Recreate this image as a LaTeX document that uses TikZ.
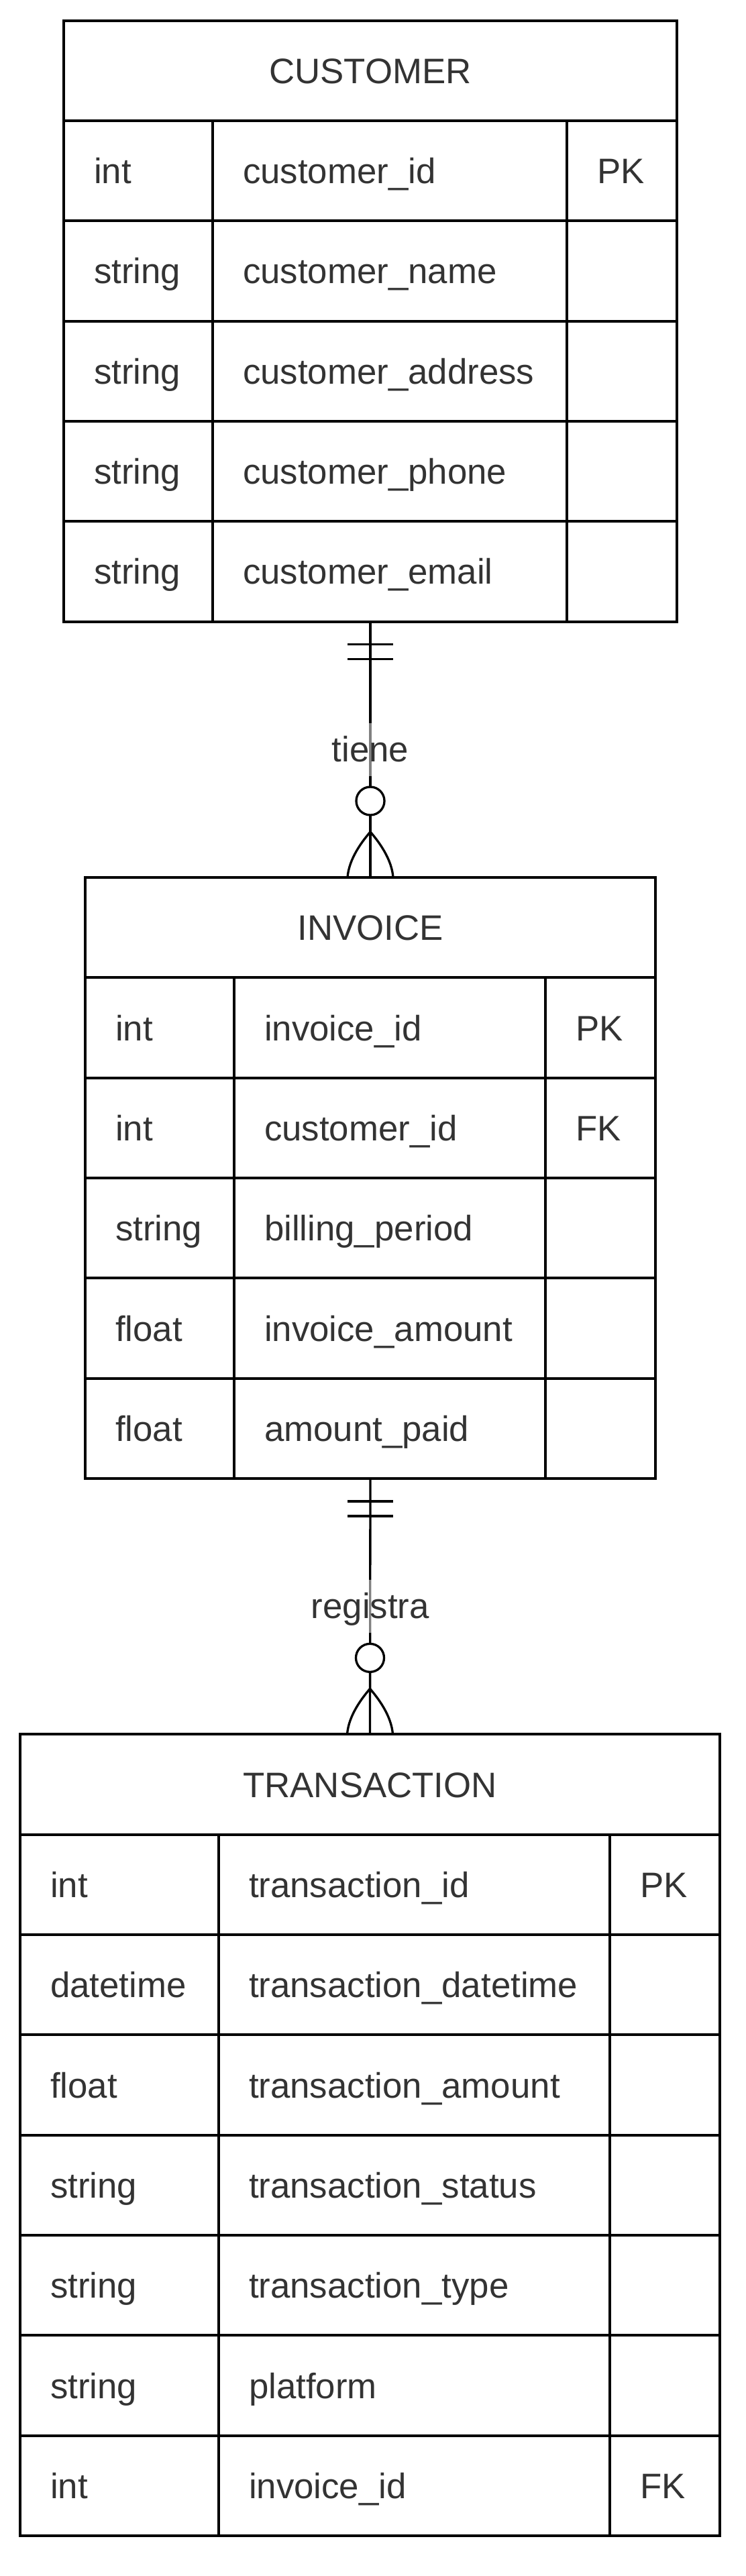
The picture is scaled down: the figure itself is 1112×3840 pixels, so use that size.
\documentclass[tikz,border=0pt]{standalone}
\usepackage{fontspec}
\setmainfont{Liberation Sans}
\usepackage{tikz}
\usetikzlibrary{calc}
\definecolor{ertext}{HTML}{333333}
\tikzset{cell/.style={draw=black, line width=1pt, shape=rectangle, anchor=north west, outer sep=0pt, inner xsep=11.25pt, inner ysep=0pt, minimum height=37.33pt, align=left, text width=#1, text height=9.5pt, text depth=0pt}}
\tikzset{head/.style={draw=black, line width=1pt, shape=rectangle, anchor=north west, outer sep=0pt, inner sep=0pt, minimum height=37.33pt, minimum width=#1, text height=9.5pt, text depth=0pt}}
\tikzset{relation/.style={draw=black, line width=0.83pt}}
\tikzset{rellabel/.style={fill=white, fill opacity=0.5, text opacity=1, inner xsep=2pt, inner ysep=2.5pt, text height=11.9pt, text depth=2.9pt}}

\begin{document}
\begin{tikzpicture}[x=0.25pt, y=-0.25pt]
	% Default action for each node
	\tikzstyle{every node}=[font=\fontsize{13.2}{16}\selectfont, text=ertext];
	\useasboundingbox (0,0) rectangle (1112,3840);

	% CUSTOMER
	\node[head=228.5pt] (customer) at (95,30.67) {CUSTOMER};
	\node[cell=33pt] (cus r1c1) at (95,180) {int};				\node[cell=109.5pt] (cus r1c2) at (317,180) {customer\_id};			\node[cell=18.5pt] (cus r1c3) at (845,180) {PK};
	\node[cell=33pt] (cus r2c1) at (95,329.33) {string};		\node[cell=109.5pt] (cus r2c2) at (317,329.33) {customer\_name};		\node[cell=18.5pt] (cus r2c3) at (845,329.33) {};
	\node[cell=33pt] (cus r3c1) at (95,478.67) {string};		\node[cell=109.5pt] (cus r3c2) at (317,478.67) {customer\_address};	\node[cell=18.5pt] (cus r3c3) at (845,478.67) {};
	\node[cell=33pt] (cus r4c1) at (95,628) {string};			\node[cell=109.5pt] (cus r4c2) at (317,628) {customer\_phone};		\node[cell=18.5pt] (cus r4c3) at (845,628) {};
	\node[cell=33pt] (cus r5c1) at (95,777.33) {string};		\node[cell=109.5pt] (cus r5c2) at (317,777.33) {customer\_email};		\node[cell=18.5pt] (cus r5c3) at (845,777.33) {};

	% INVOICE
	\node[head=212.5pt] (invoice) at (127,1308) {INVOICE};
	\node[cell=33pt] (inv r1c1) at (127,1457.33) {int};		\node[cell=93.5pt] (inv r1c2) at (349,1457.33) {invoice\_id};		\node[cell=18.5pt] (inv r1c3) at (813,1457.33) {PK};
	\node[cell=33pt] (inv r2c1) at (127,1606.67) {int};		\node[cell=93.5pt] (inv r2c2) at (349,1606.67) {customer\_id};		\node[cell=18.5pt] (inv r2c3) at (813,1606.67) {FK};
	\node[cell=33pt] (inv r3c1) at (127,1756) {string};		\node[cell=93.5pt] (inv r3c2) at (349,1756) {billing\_period};		\node[cell=18.5pt] (inv r3c3) at (813,1756) {};
	\node[cell=33pt] (inv r4c1) at (127,1905.33) {float};		\node[cell=93.5pt] (inv r4c2) at (349,1905.33) {invoice\_amount};	\node[cell=18.5pt] (inv r4c3) at (813,1905.33) {};
	\node[cell=33pt] (inv r5c1) at (127,2054.67) {float};		\node[cell=93.5pt] (inv r5c2) at (349,2054.67) {amount\_paid};		\node[cell=18.5pt] (inv r5c3) at (813,2054.67) {};

	% TRANSACTION
	\node[head=260.75pt] (transaction) at (30,2585.33) {TRANSACTION};
	\node[cell=51.5pt] (tra r1c1) at (30,2734.67) {int};			\node[cell=123.25pt] (tra r1c2) at (326,2734.67) {transaction\_id};			\node[cell=18.5pt] (tra r1c3) at (909,2734.67) {PK};
	\node[cell=51.5pt] (tra r2c1) at (30,2884) {datetime};		\node[cell=123.25pt] (tra r2c2) at (326,2884) {transaction\_datetime};		\node[cell=18.5pt] (tra r2c3) at (909,2884) {};
	\node[cell=51.5pt] (tra r3c1) at (30,3033.33) {float};		\node[cell=123.25pt] (tra r3c2) at (326,3033.33) {transaction\_amount};		\node[cell=18.5pt] (tra r3c3) at (909,3033.33) {};
	\node[cell=51.5pt] (tra r4c1) at (30,3182.67) {string};		\node[cell=123.25pt] (tra r4c2) at (326,3182.67) {transaction\_status};		\node[cell=18.5pt] (tra r4c3) at (909,3182.67) {};
	\node[cell=51.5pt] (tra r5c1) at (30,3332) {string};			\node[cell=123.25pt] (tra r5c2) at (326,3332) {transaction\_type};			\node[cell=18.5pt] (tra r5c3) at (909,3332) {};
	\node[cell=51.5pt] (tra r6c1) at (30,3481.33) {string};		\node[cell=123.25pt] (tra r6c2) at (326,3481.33) {platform};				\node[cell=18.5pt] (tra r6c3) at (909,3481.33) {};
	\node[cell=51.5pt] (tra r7c1) at (30,3630.67) {int};			\node[cell=123.25pt] (tra r7c2) at (326,3630.67) {invoice\_id};				\node[cell=18.5pt] (tra r7c3) at (909,3630.67) {FK};

	% tiene
	\coordinate (tiene top) at (customer |- cus r5c2.south);
	\draw[relation] (tiene top) -- (invoice.north) node[midway, rellabel] (tiene) {tiene};
	\draw[relation] ($(tiene top)+(-34,34)$) -- ($(tiene top)+(34,34)$);
	\draw[relation] ($(tiene top)+(-34,56)$) -- ($(tiene top)+(34,56)$);
	\draw[relation, fill=white] ($(invoice.north)+(0,-114)$) circle[radius=5.25pt];
	\draw[relation] ($(invoice.north)+(0,-68)$) .. controls ($(invoice.north)+(-12,-54)$) and ($(invoice.north)+(-32,-28)$) .. ($(invoice.north)+(-34,0)$);
	\draw[relation] ($(invoice.north)+(0,-68)$) .. controls ($(invoice.north)+(12,-54)$) and ($(invoice.north)+(32,-28)$) .. ($(invoice.north)+(34,0)$);

	% registra
	\coordinate (registra top) at (invoice |- inv r5c2.south);
	\draw[relation] (registra top) -- (transaction.north) node[midway, rellabel] (registra) {registra};
	\draw[relation] ($(registra top)+(-34,34)$) -- ($(registra top)+(34,34)$);
	\draw[relation] ($(registra top)+(-34,56)$) -- ($(registra top)+(34,56)$);
	\draw[relation, fill=white] ($(transaction.north)+(0,-114)$) circle[radius=5.25pt];
	\draw[relation] ($(transaction.north)+(0,-68)$) .. controls ($(transaction.north)+(-12,-54)$) and ($(transaction.north)+(-32,-28)$) .. ($(transaction.north)+(-34,0)$);
	\draw[relation] ($(transaction.north)+(0,-68)$) .. controls ($(transaction.north)+(12,-54)$) and ($(transaction.north)+(32,-28)$) .. ($(transaction.north)+(34,0)$);
\end{tikzpicture}
\end{document}
